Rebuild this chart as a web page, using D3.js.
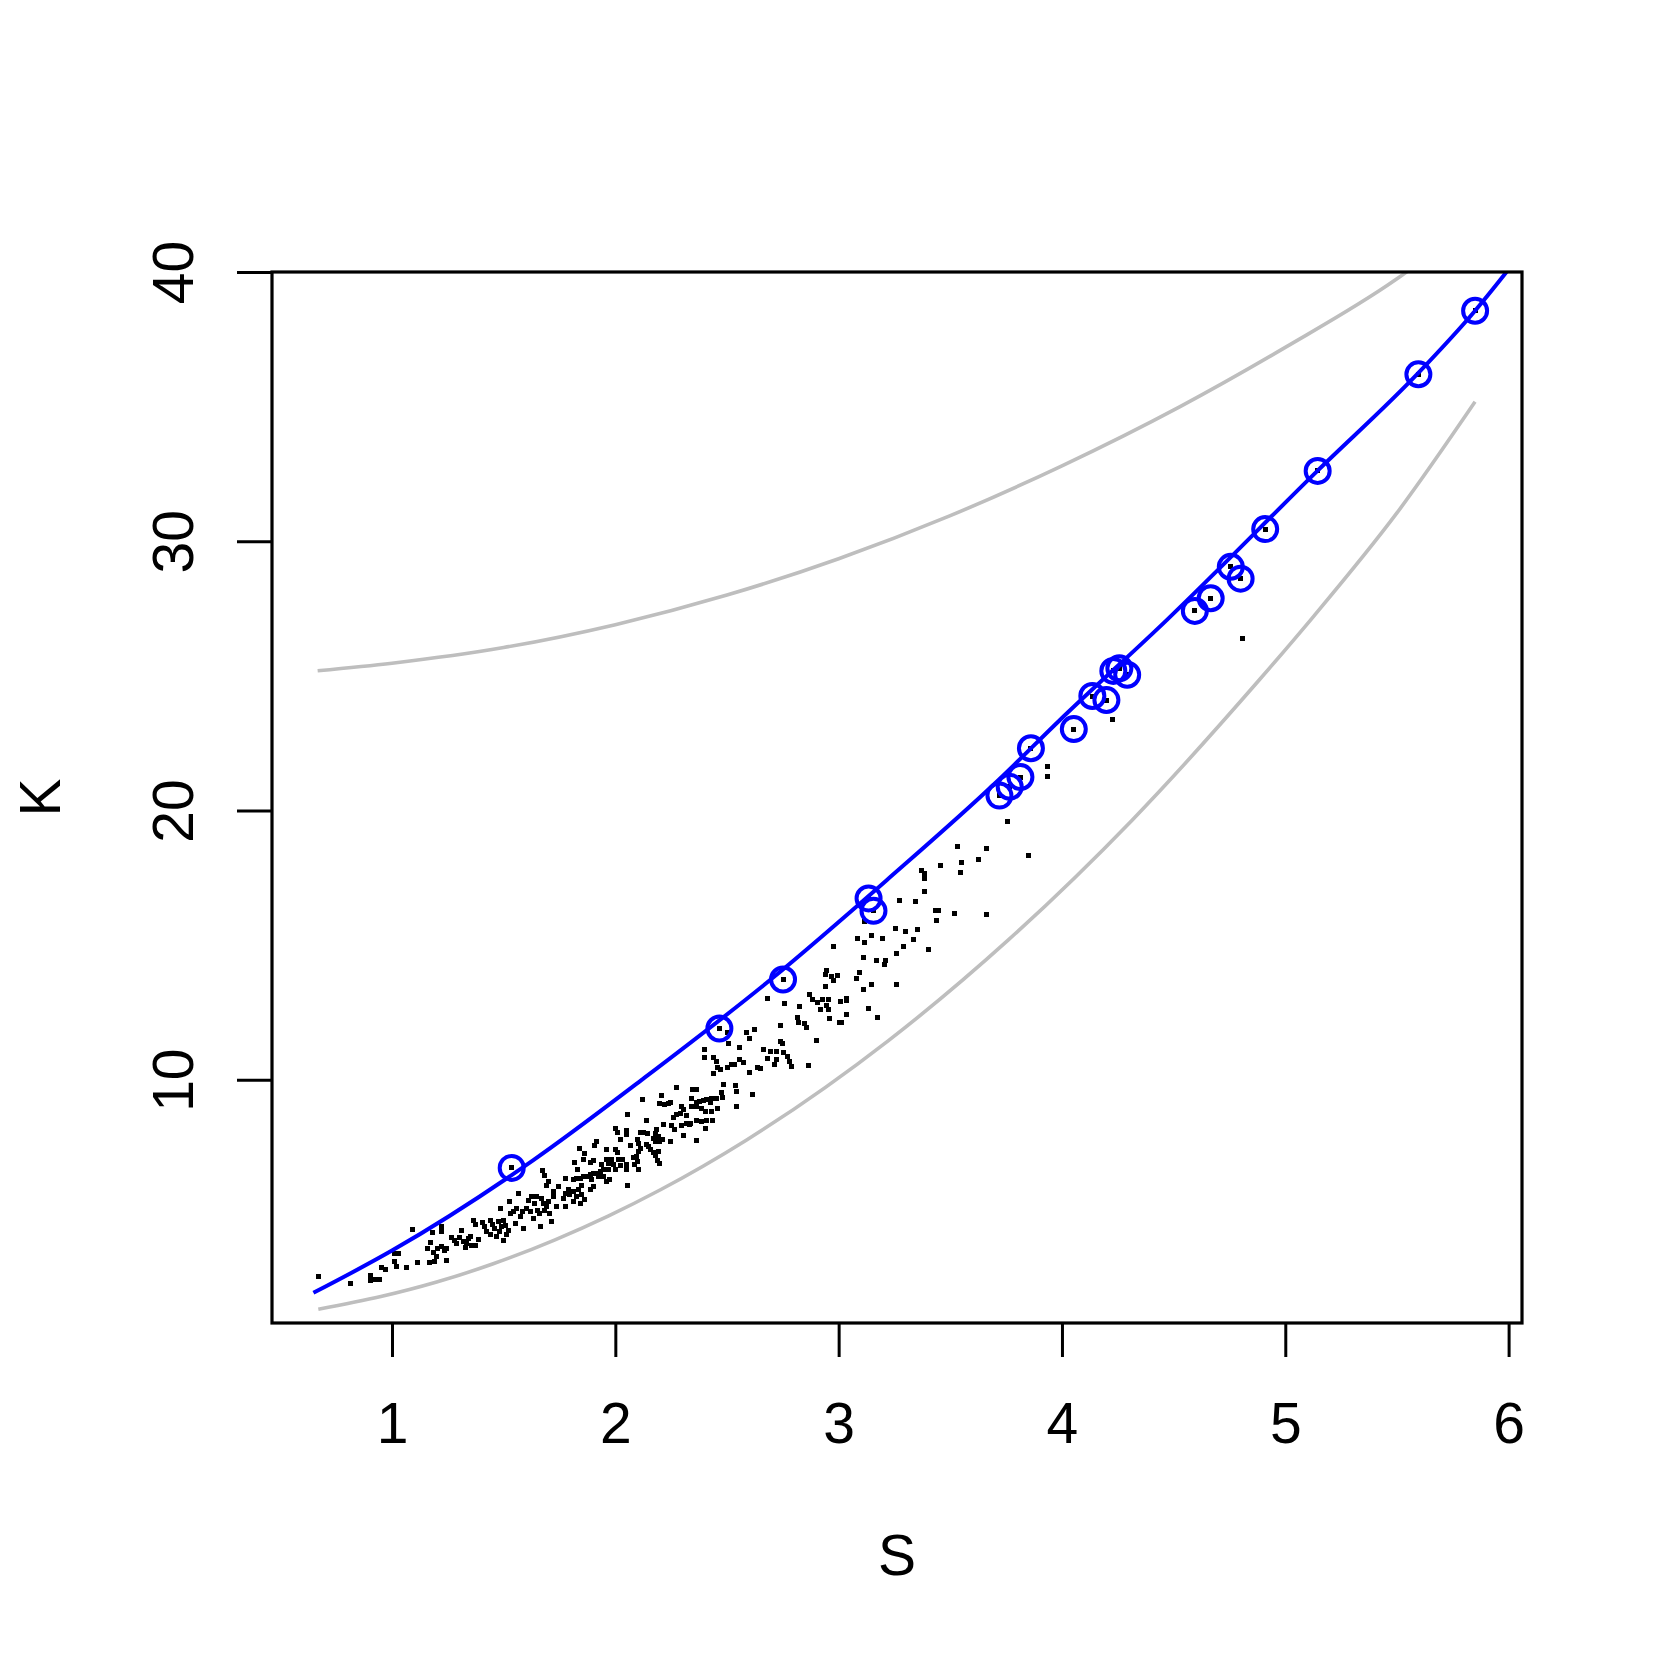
<!DOCTYPE html>
<html>
<head>
<meta charset="utf-8">
<script src="https://cdn.jsdelivr.net/npm/d3@7"></script>
<style>
  html, body { margin: 0; padding: 0; background: #ffffff; }
  svg { display: block; }
  text { font-family: "Liberation Sans", Arial, Helvetica, sans-serif; fill: #000; }
</style>
</head>
<body>
<svg id="chart" width="1661" height="1661"></svg>
<script>
// ---------------- data ----------------
const xTicks = [1, 2, 3, 4, 5, 6];
const yTicks = [10, 20, 30, 40];
const xLabel = "S";
const yLabel = "K";

// highlighted (circled) observations
const circleS = [1.536, 2.466, 2.751, 3.134, 3.156, 3.720, 3.766, 3.814, 3.861, 4.053, 4.136, 4.199,
                 4.230, 4.257, 4.292, 4.595, 4.666, 4.756, 4.800, 4.910, 5.145, 5.596, 5.850];
const circleK = [6.72, 11.90, 13.72, 16.73, 16.27, 20.55, 20.88, 21.24, 22.31, 23.02, 24.25, 24.10,
                 25.18, 25.28, 25.04, 27.41, 27.88, 29.05, 28.61, 30.45, 32.61, 36.20, 38.56];

// all other observations [S, K]
const sampleSK = [
 [0.670,2.70],[0.815,2.44],[0.904,2.74],[0.904,2.53],[0.928,2.59],[0.946,2.58],[0.954,3.02],[0.973,2.93],
 [1.009,3.54],[1.028,3.54],[1.013,3.24],[1.018,3.05],[1.063,3.03],[1.091,4.44],[1.116,3.21],[1.158,3.73],
 [1.173,3.94],[1.182,4.31],[1.222,4.53],[1.222,4.35],[1.170,3.20],[1.192,3.24],[1.197,3.42],[1.185,3.58],
 [1.203,3.73],[1.222,3.82],[1.233,3.67],[1.245,3.73],[1.242,3.30],[1.267,4.14],[1.278,4.01],[1.289,3.92],
 [1.301,4.14],[1.312,4.41],[1.319,3.98],[1.327,3.77],[1.334,3.92],[1.342,4.10],[1.352,4.19],[1.364,4.78],
 [1.372,4.63],[1.357,3.85],[1.376,3.85],[1.387,4.06],[1.406,4.68],[1.416,4.53],[1.424,4.35],[1.439,4.78],
 [1.442,4.23],[1.451,4.63],[1.461,4.47],[1.469,4.16],[1.481,4.35],[1.484,5.22],[1.476,4.72],[1.491,4.53],
 [1.498,4.78],[1.506,4.60],[1.501,4.04],[1.513,4.23],[1.521,4.41],[1.528,5.46],[1.531,5.03],[1.543,5.09],
 [1.551,4.66],[1.558,5.22],[1.566,5.77],[1.576,4.91],[1.585,5.09],[1.591,4.47],[1.603,5.22],[1.610,5.52],
 [1.618,5.09],[1.625,5.65],[1.633,4.84],[1.640,5.40],[1.648,5.65],[1.651,5.15],[1.660,5.03],[1.666,4.54],
 [1.670,5.59],[1.678,5.40],[1.685,5.15],[1.692,5.28],[1.700,5.46],[1.707,5.03],[1.715,4.72],[1.725,5.65],
 [1.737,5.28],[1.675,6.64],[1.681,6.45],[1.692,6.08],[1.700,6.21],[1.722,5.83],[1.745,6.02],
 [2.275,9.72],[2.362,9.64],[2.347,9.62],[2.484,9.83],[2.536,9.80],[2.541,9.56],[2.614,9.46],[2.476,9.52],
 [2.481,9.35],[2.454,9.31],[2.432,9.31],[2.409,9.25],[2.424,9.15],[2.394,9.22],[2.376,9.19],[2.362,9.15],
 [2.342,9.31],[2.342,9.00],[2.364,9.00],[2.387,8.94],[2.406,8.81],[2.432,8.81],[2.457,8.94],[2.541,9.00],
 [2.208,9.40],[2.123,9.27],[2.197,9.10],[2.218,9.06],[2.238,9.12],[2.248,9.15],[2.297,9.00],[2.305,8.88],
 [2.290,8.75],[2.275,8.69],[2.260,8.60],[2.320,8.65],[2.332,8.32],[2.317,8.38],[2.297,8.28],[2.338,8.38],
 [2.364,8.50],[2.384,8.44],[2.409,8.50],[2.436,8.50],[2.402,8.18],[2.054,8.72],[2.141,8.50],[2.215,8.32],
 [2.253,8.28],[2.267,8.13],[2.185,8.13],[2.178,8.01],[2.193,7.89],[2.170,7.82],[2.144,8.01],[2.111,8.03],
 [2.126,8.03],[2.178,7.70],[2.200,7.70],[2.212,7.76],[2.248,7.70],[2.305,7.91],[2.364,7.74],[2.003,8.20],
 [2.009,8.03],[2.048,8.11],[2.048,7.95],[2.024,7.76],[2.100,7.79],[2.103,7.61],[2.070,7.55],[2.111,7.45],
 [2.103,7.33],[2.141,7.58],[2.148,7.51],[2.156,7.39],[2.170,7.29],[2.193,7.33],[2.178,7.17],[2.188,6.98],
 [2.200,6.87],[2.096,7.14],[2.081,7.12],[2.099,6.96],[2.088,6.86],[2.103,6.65],[2.051,6.65],[1.839,7.45],
 [1.860,7.27],[1.857,7.04],[1.905,7.54],[1.917,7.70],[1.962,7.39],[2.003,7.39],[2.009,7.29],[1.817,6.92],
 [1.830,6.65],[1.887,6.92],[1.902,6.99],[1.939,6.83],[1.962,7.04],[1.969,6.90],[1.984,7.02],[1.991,6.83],
 [2.014,7.02],[2.021,6.80],[2.033,7.02],[2.051,6.83],[1.999,6.67],[1.969,6.65],[1.947,6.65],[1.932,6.59],
 [1.917,6.52],[1.902,6.50],[1.887,6.46],[1.872,6.40],[1.857,6.40],[1.924,6.40],[1.947,6.40],[1.976,6.28],
 [1.962,6.22],[1.894,6.28],[1.842,6.34],[1.812,6.28],[1.827,6.34],[1.779,6.34],[2.054,6.08],[1.902,6.03],
 [1.887,5.93],[1.850,6.05],[1.835,5.91],[1.812,5.84],[1.790,5.91],[1.775,5.78],[1.767,5.60],[1.797,5.72],
 [1.827,5.66],[1.850,5.72],[1.812,5.47],[1.842,5.41],[1.864,5.53],[1.775,5.29],
 [2.503,11.76],[2.683,13.02],[2.756,12.83],[2.824,12.73],[2.868,13.16],[2.883,12.96],[2.906,12.86],[2.917,12.61],
 [2.815,12.31],[2.818,12.12],[2.847,12.07],[2.857,11.95],[2.738,12.02],[2.621,11.86],[2.589,11.76],[2.599,11.53],
 [2.506,11.35],[2.556,11.18],[2.739,11.42],[2.748,11.34],[2.903,11.47],[2.399,11.13],[2.665,11.13],[2.697,11.04],
 [2.723,11.04],[2.754,11.01],[2.399,10.83],[2.439,10.83],[2.451,10.69],[2.681,10.78],[2.720,10.73],[2.712,10.57],
 [2.772,10.85],[2.780,10.69],[2.554,10.73],[2.574,10.63],[2.521,10.57],[2.535,10.57],[2.503,10.46],[2.459,10.46],
 [2.469,10.36],[2.439,10.23],[2.636,10.46],[2.650,10.40],[2.603,10.27],[2.790,10.48],[2.863,10.53],
 [3.386,16.99],[3.271,16.67],[3.342,16.60],[3.432,16.28],[3.445,16.30],[3.438,15.92],[3.517,16.18],[3.663,16.14],
 [3.118,15.87],[3.256,15.60],[3.298,15.50],[3.351,15.57],[3.083,15.25],[3.114,15.10],[3.148,15.34],[3.198,15.25],
 [3.335,15.22],[2.978,14.94],[3.292,14.95],[3.401,14.83],[3.259,14.69],[3.113,14.53],[3.168,14.42],[3.210,14.41],
 [3.207,14.26],[2.944,14.04],[2.941,13.91],[2.969,13.83],[2.993,13.85],[2.978,13.68],[3.092,13.99],[3.081,13.74],
 [3.145,13.55],[3.257,13.52],[2.942,13.45],[3.111,13.34],[2.927,12.96],[2.954,12.96],[2.947,12.74],[2.953,12.60],
 [3.007,12.89],[3.035,12.93],[3.036,13.01],[3.132,12.64],[2.959,12.27],[3.033,12.42],[3.004,12.12],[3.014,12.12],
 [3.172,12.29],
 [3.758,19.58],[3.532,18.65],[3.663,18.57],[3.548,18.07],[3.627,18.18],[3.850,18.31],[3.544,17.69],[3.454,17.97],
 [3.372,17.75],[3.386,17.66],[3.386,17.48],[3.936,21.63],[3.935,21.25],[4.226,23.36],[4.807,26.39]
];

// fitted curve (blue)
const fitS = [0.648, 1.0, 1.633, 2.118, 2.693, 3.215, 3.716, 3.991, 4.469, 5.145, 5.596, 5.850, 5.962, 6.00];
const fitK = [2.08, 3.65, 7.01, 9.99, 13.70, 17.41, 21.13, 23.36, 27.07, 32.62, 36.25, 38.56, 39.70, 40.10];

// upper grey band
const upperS = [0.667, 1.0, 1.5, 2.0, 2.5, 3.0, 3.5, 4.0, 4.529, 5.0, 5.492, 5.56];
const upperK = [25.19, 25.47, 26.05, 26.90, 28.00, 29.35, 30.95, 32.80, 35.00, 37.20, 39.70, 40.10];

// lower grey band
const lowerS = [0.670, 0.95, 1.20, 1.45, 1.73, 1.97, 2.20, 2.588, 3.223, 3.760, 4.313, 4.887, 5.126, 5.50, 5.850];
const lowerK = [1.47, 1.94, 2.48, 3.15, 4.05, 4.94, 5.90, 7.76, 11.45, 15.19, 19.63, 24.88, 27.20, 31.05, 35.18];

// ---------------- layout ----------------
const W = 1661, H = 1661;
const plot = { left: 272, right: 1522, top: 272, bottom: 1323 };

const x = d3.scaleLinear().domain([0.4626, 6.060]).range([plot.left, plot.right]);
const y = d3.scaleLinear().domain([0.96, 40.0]).range([plot.bottom, plot.top]);

const svg = d3.select("#chart");
svg.append("rect").attr("width", W).attr("height", H).attr("fill", "#fff");

svg.append("defs").append("clipPath").attr("id", "plotclip")
  .append("rect")
  .attr("x", plot.left).attr("y", plot.top)
  .attr("width", plot.right - plot.left).attr("height", plot.bottom - plot.top);

const g = svg.append("g").attr("clip-path", "url(#plotclip)");

const line = d3.line().x(d => x(d[0])).y(d => y(d[1])).curve(d3.curveMonotoneX);
const zip = (a, b) => a.map((v, i) => [v, b[i]]);

g.append("path").datum(zip(upperS, upperK))
  .attr("d", line).attr("fill", "none").attr("stroke", "#bebebe").attr("stroke-width", 3.6);
g.append("path").datum(zip(lowerS, lowerK))
  .attr("d", line).attr("fill", "none").attr("stroke", "#bebebe").attr("stroke-width", 3.6);

// points
const allPts = sampleSK.concat(zip(circleS, circleK));
const ps = 5;
g.selectAll("rect.pt").data(allPts).enter().append("rect")
  .attr("class", "pt")
  .attr("x", d => Math.round(x(d[0]) - ps / 2)).attr("y", d => Math.round(y(d[1]) - ps / 2))
  .attr("width", ps).attr("height", ps).attr("fill", "#000")
  .attr("shape-rendering", "crispEdges");

g.append("path").datum(zip(fitS, fitK))
  .attr("d", line).attr("fill", "none").attr("stroke", "#0000ff").attr("stroke-width", 4);

g.selectAll("circle.hi").data(zip(circleS, circleK)).enter().append("circle")
  .attr("class", "hi")
  .attr("cx", d => x(d[0])).attr("cy", d => y(d[1])).attr("r", 12)
  .attr("fill", "none").attr("stroke", "#0000ff").attr("stroke-width", 4);

// box
svg.append("rect")
  .attr("x", plot.left).attr("y", plot.top)
  .attr("width", plot.right - plot.left).attr("height", plot.bottom - plot.top)
  .attr("fill", "none").attr("stroke", "#000").attr("stroke-width", 3.2);

// x axis
const xAxis = d3.axisBottom(x).tickValues(xTicks).tickSize(34).tickPadding(0).tickFormat(d3.format("d"));
const gx = svg.append("g").attr("transform", `translate(0,${plot.bottom})`).call(xAxis);
gx.select(".domain").remove();
gx.selectAll(".tick line").attr("stroke", "#000").attr("stroke-width", 3);
gx.selectAll(".tick text")
  .attr("y", 120).attr("dy", null)
  .attr("font-size", 57).attr("font-family", "Liberation Sans, Arial, sans-serif")
  .attr("fill", "#000");

// y axis
const yAxis = d3.axisLeft(y).tickValues(yTicks).tickSize(35).tickPadding(0).tickFormat(d3.format("d"));
const gy = svg.append("g").attr("transform", `translate(${plot.left},0)`).call(yAxis);
gy.select(".domain").remove();
gy.selectAll(".tick line").attr("stroke", "#000").attr("stroke-width", 3);
gy.selectAll(".tick text")
  .attr("x", null).attr("dy", null)
  .attr("transform", "translate(-79,0) rotate(-90)")
  .attr("text-anchor", "middle")
  .attr("font-size", 57).attr("font-family", "Liberation Sans, Arial, sans-serif")
  .attr("fill", "#000");

// axis titles
svg.append("text")
  .attr("x", (plot.left + plot.right) / 2).attr("y", 1575)
  .attr("text-anchor", "middle").attr("font-size", 57)
  .text(xLabel);
svg.append("text")
  .attr("transform", `translate(60,${(plot.top + plot.bottom) / 2}) rotate(-90)`)
  .attr("text-anchor", "middle").attr("font-size", 57)
  .text(yLabel);
</script>
</body>
</html>
